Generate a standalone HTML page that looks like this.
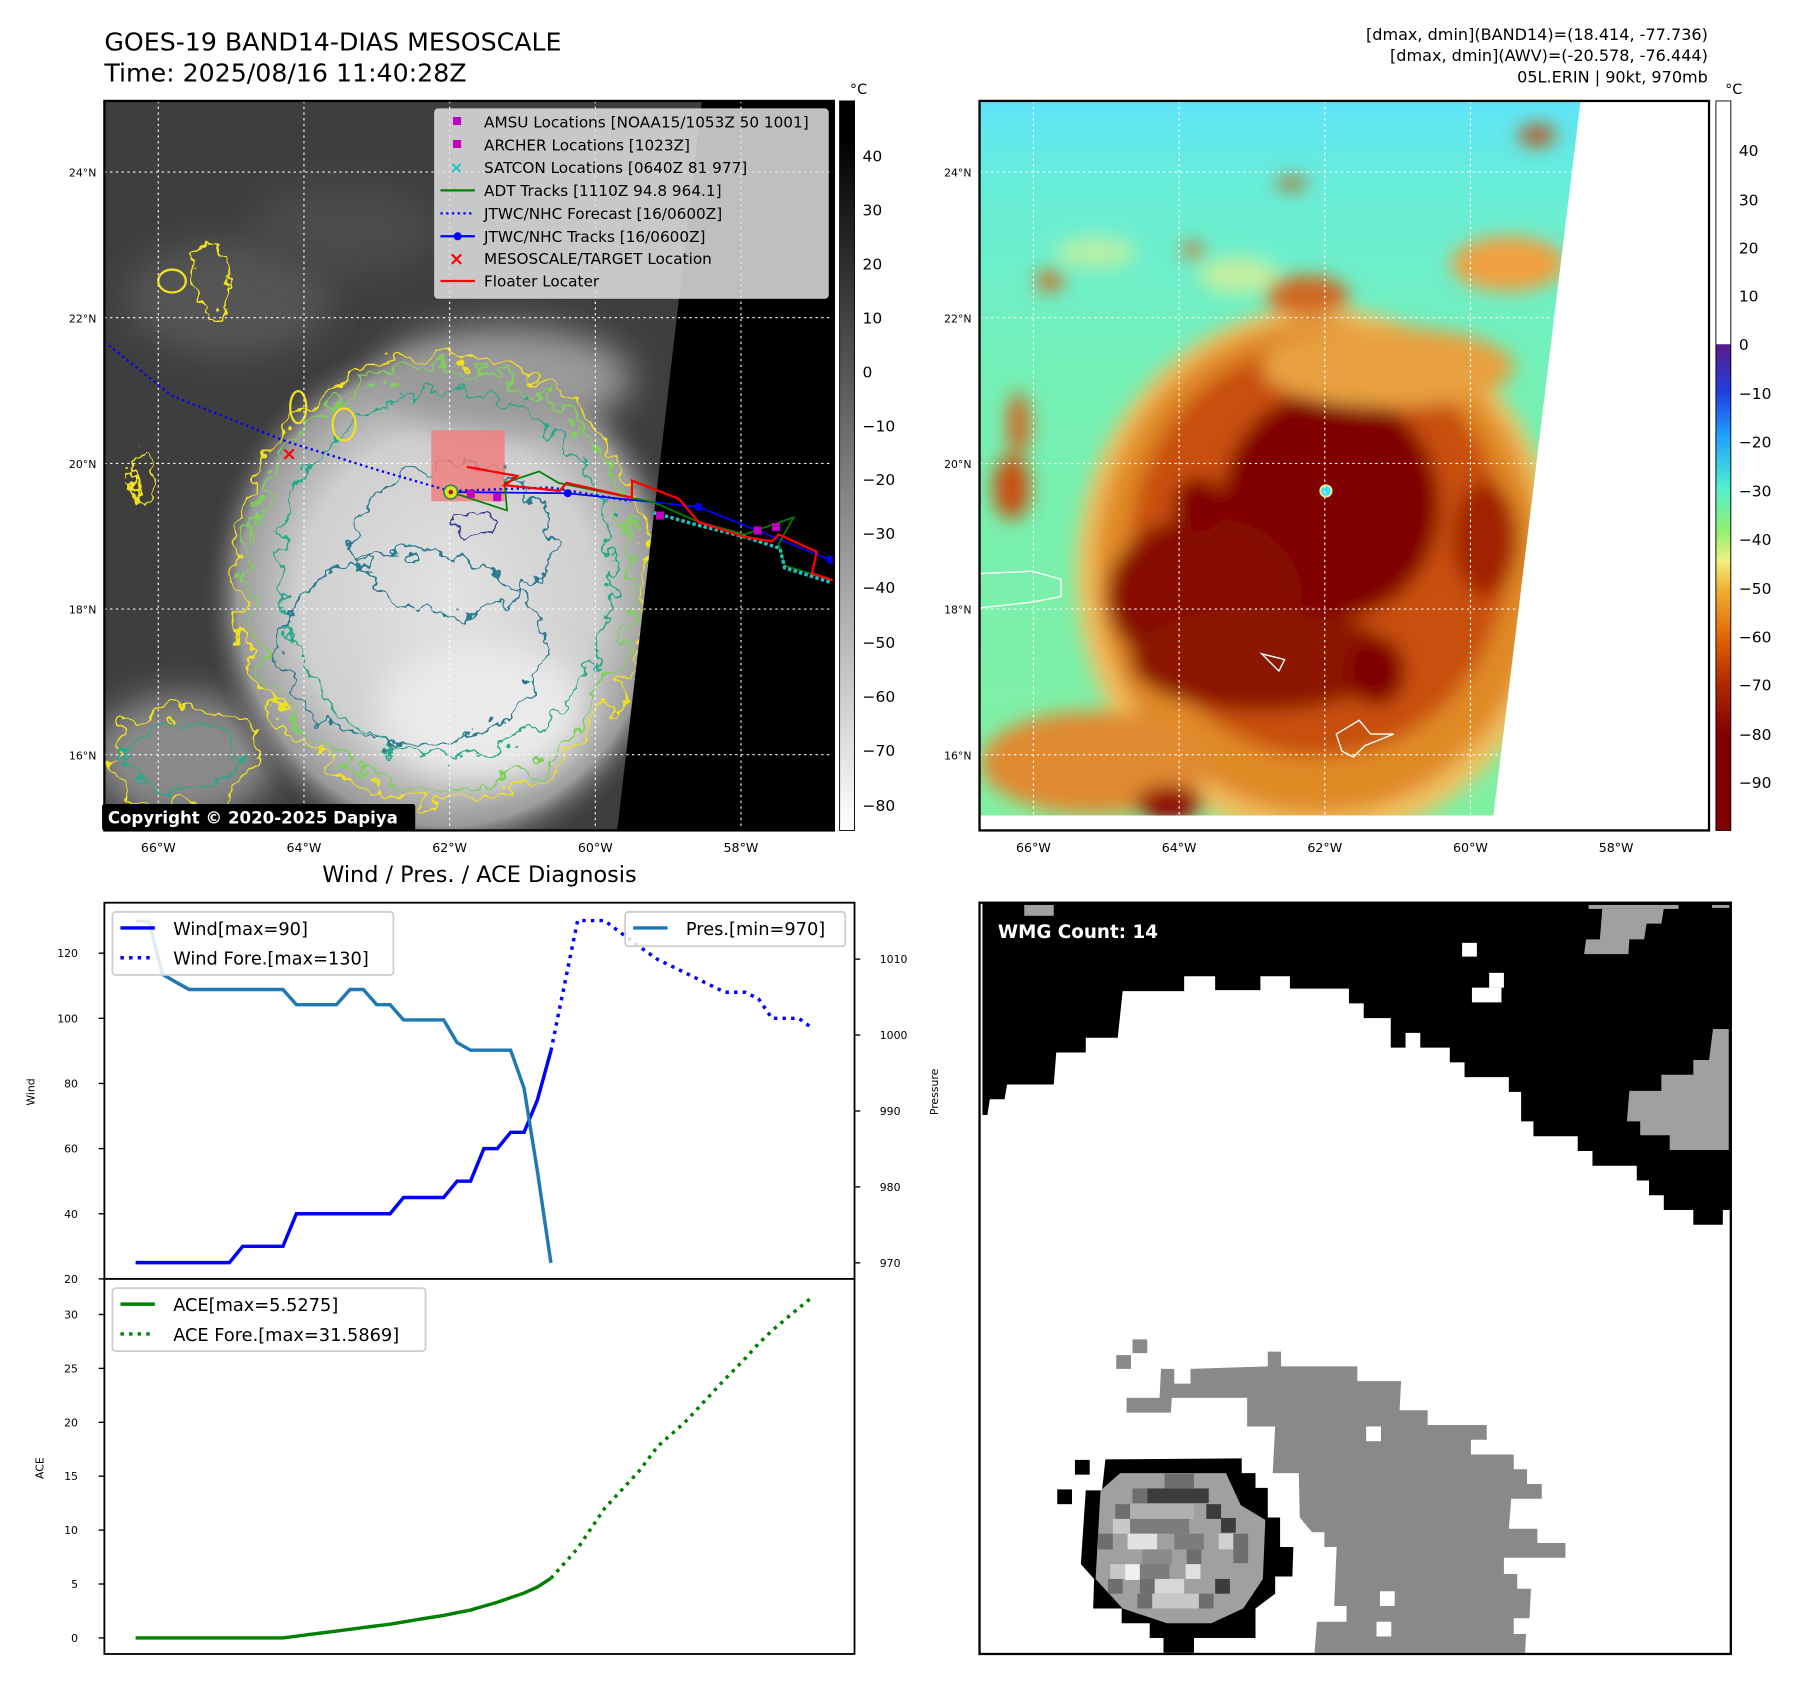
<!DOCTYPE html>
<html><head><meta charset="utf-8"><style>
html,body{margin:0;padding:0;background:#fff;}
svg{display:block;font-family:"DejaVu Sans","Liberation Sans",sans-serif;}
</style></head><body>
<svg id="fig" width="1797" height="1690" viewBox="0 0 1566.7 1473.4" xmlns="http://www.w3.org/2000/svg">
<defs>
<filter id="wig" x="-30%" y="-30%" width="160%" height="160%"><feTurbulence type="fractalNoise" baseFrequency="0.045" numOctaves="3" seed="4"/><feDisplacementMap in="SourceGraphic" scale="40" xChannelSelector="R" yChannelSelector="G"/></filter>
<filter id="wig2" x="-30%" y="-30%" width="160%" height="160%"><feTurbulence type="fractalNoise" baseFrequency="0.06" numOctaves="3" seed="9"/><feDisplacementMap in="SourceGraphic" scale="30" xChannelSelector="R" yChannelSelector="G"/></filter>
<filter id="blur8" x="-50%" y="-50%" width="200%" height="200%"><feGaussianBlur stdDeviation="8"/></filter>
<filter id="blur15" x="-60%" y="-60%" width="220%" height="220%"><feGaussianBlur stdDeviation="15"/></filter>
<clipPath id="clipL"><rect x="91" y="88" width="636" height="636"/></clipPath>
<clipPath id="clipR"><polygon points="854,88 1378,88 1302,711 854,711"/></clipPath>
<radialGradient id="stormG" cx="0.5" cy="0.5" r="0.5"><stop offset="0" stop-color="#e2e2e2"/><stop offset="0.6" stop-color="#cfcfcf"/><stop offset="0.85" stop-color="#9a9a9a"/><stop offset="1" stop-color="#3e3e3e" stop-opacity="0"/></radialGradient>
<linearGradient id="bgR" x1="0" y1="0" x2="0" y2="1"><stop offset="0" stop-color="#5ee4f8"/><stop offset="0.12" stop-color="#68eed8"/><stop offset="0.4" stop-color="#74f0b4"/><stop offset="1" stop-color="#82f0a2"/></linearGradient>
<linearGradient id="cbL" x1="0" y1="0" x2="0" y2="1"><stop offset="0" stop-color="#000"/><stop offset="0.05" stop-color="#000"/><stop offset="1" stop-color="#fff"/></linearGradient>
<linearGradient id="cbR" x1="0" y1="0" x2="0" y2="1">
<stop offset="0" stop-color="#fff"/><stop offset="0.333" stop-color="#fff"/><stop offset="0.334" stop-color="#5a1a8a"/><stop offset="0.4" stop-color="#2040e0"/><stop offset="0.46" stop-color="#20a0ff"/><stop offset="0.53" stop-color="#50f0d0"/><stop offset="0.59" stop-color="#90f070"/><stop offset="0.63" stop-color="#f0f080"/><stop offset="0.67" stop-color="#f0b030"/><stop offset="0.74" stop-color="#e06000"/><stop offset="0.8" stop-color="#b02800"/><stop offset="0.87" stop-color="#800000"/><stop offset="1" stop-color="#800000"/></linearGradient>
</defs>

<text x="91" y="44" font-size="22">GOES-19 BAND14-DIAS MESOSCALE</text>
<text x="91" y="71" font-size="22">Time: 2025/08/16 11:40:28Z</text>
<g font-size="14" text-anchor="end">
<text x="1489" y="35">[dmax, dmin](BAND14)=(18.414, -77.736)</text>
<text x="1489" y="53">[dmax, dmin](AWV)=(-20.578, -76.444)</text>
<text x="1489" y="72">05L.ERIN | 90kt, 970mb</text>
</g>

<g>
<g clip-path="url(#clipL)">
<rect x="91" y="88" width="636" height="636" fill="#3e3e3e"/>
<ellipse cx="200" cy="260" rx="90" ry="50" fill="#555" filter="url(#blur15)"/>
<ellipse cx="300" cy="200" rx="80" ry="40" fill="#4c4c4c" filter="url(#blur15)"/>
<ellipse cx="160" cy="660" rx="80" ry="55" fill="#8a8a8a" filter="url(#blur15)"/>
<ellipse cx="390" cy="520" rx="215" ry="235" fill="url(#stormG)"/>
<ellipse cx="440" cy="330" rx="110" ry="45" fill="#9a9a9a" filter="url(#blur15)"/>
<ellipse cx="420" cy="620" rx="90" ry="60" fill="#eaeaea" filter="url(#blur15)"/>
<g fill="none" stroke-width="2">
<ellipse cx="385" cy="505" rx="180" ry="195" stroke="#f0e020" filter="url(#wig)"/>
<ellipse cx="385" cy="505" rx="170" ry="185" stroke="#7ed05a" filter="url(#wig)"/>
<ellipse cx="390" cy="500" rx="145" ry="160" stroke="#2aa88a" filter="url(#wig2)"/>
<ellipse cx="395" cy="470" rx="85" ry="65" stroke="#2a7a90" filter="url(#wig2)"/>
<ellipse cx="360" cy="565" rx="115" ry="85" stroke="#2a7a90" filter="url(#wig2)"/>
<ellipse cx="410" cy="455" rx="22" ry="10" stroke="#3a3a90" filter="url(#wig2)"/>
<ellipse cx="185" cy="242" rx="16" ry="32" stroke="#f0e020" filter="url(#wig2)"/>
<ellipse cx="150" cy="245" rx="12" ry="10" stroke="#f0e020"/>
<ellipse cx="125" cy="420" rx="10" ry="25" stroke="#f0e020" filter="url(#wig2)"/>
<ellipse cx="160" cy="660" rx="65" ry="42" stroke="#f0e020" filter="url(#wig)"/>
<ellipse cx="160" cy="660" rx="50" ry="30" stroke="#2aa88a" filter="url(#wig2)"/>
<ellipse cx="300" cy="370" rx="10" ry="14" stroke="#f0e020"/>
<ellipse cx="260" cy="355" rx="7" ry="14" stroke="#f0e020"/>
</g>
<polygon points="612,88 727,88 727,724 538,724 540,708" fill="#000"/>
<g stroke="#fff" stroke-width="1" stroke-dasharray="2,3">
<line x1="138" y1="88" x2="138" y2="724"/><line x1="265" y1="88" x2="265" y2="724"/><line x1="392" y1="88" x2="392" y2="724"/><line x1="519" y1="88" x2="519" y2="724"/><line x1="646" y1="88" x2="646" y2="724"/>
<line x1="91" y1="150" x2="727" y2="150"/><line x1="91" y1="277" x2="727" y2="277"/><line x1="91" y1="404" x2="727" y2="404"/><line x1="91" y1="531" x2="727" y2="531"/><line x1="91" y1="658" x2="727" y2="658"/>
</g>
<rect x="376" y="375" width="64" height="62" fill="#f08080" opacity="0.85"/>
<polyline points="91,298 150,345 250,385 330,410 392,428 480,425 550,437" fill="none" stroke="#0000ff" stroke-width="2" stroke-dasharray="2,3"/>
<polyline points="393,429 495,430 609,442 724,488" fill="none" stroke="#0000ff" stroke-width="1.5"/>
<g fill="#0000ff"><circle cx="495" cy="430" r="3.5"/><circle cx="609" cy="442" r="3.5"/><circle cx="724" cy="488" r="3.5"/></g>
<polyline points="393,429 442,445 440,421 470,411 487,421 570,438 609,455 649,466 692,451 679,474 684,493 725,506" fill="none" stroke="#008000" stroke-width="1.5"/>
<polyline points="570,447 609,458 649,468 680,478 684,495 725,508" fill="none" stroke="#20c0c0" stroke-width="3" stroke-dasharray="3,2"/>
<polyline points="407,407 451,415 440,423 488,428 494,421 551,434 551,419 592,435 609,455 649,468 673,472 679,466 712,481 708,500 727,506" fill="none" stroke="#ff0000" stroke-width="2"/>
<g fill="#c000c0"><rect x="407" y="427" width="7" height="7"/><rect x="430" y="430" width="7" height="7"/><rect x="572" y="446" width="7" height="7"/><rect x="657" y="459" width="7" height="7"/><rect x="673" y="456" width="7" height="7"/></g>
<circle cx="393" cy="429" r="6" fill="#e0e020" stroke="#2a8a4a" stroke-width="1.5"/><circle cx="393" cy="429" r="2" fill="#a02020"/>
<text x="252" y="401" font-size="16" fill="#f00" text-anchor="middle" font-weight="bold">×</text>
<g>
<rect x="379" y="95" width="343" height="165" rx="3" fill="#e0e0e0" fill-opacity="0.85" stroke="#ccc"/>
<g font-size="13.3" fill="#000">
<rect x="395" y="102" width="7" height="7" fill="#c000c0"/><text x="422" y="111">AMSU Locations [NOAA15/1053Z 50 1001]</text>
<rect x="395" y="122" width="7" height="7" fill="#c000c0"/><text x="422" y="131">ARCHER Locations [1023Z]</text>
<text x="398" y="151" fill="#20c0c0" text-anchor="middle" font-weight="bold" font-size="14">×</text><text x="422" y="151">SATCON Locations [0640Z 81 977]</text>
<line x1="384" y1="166" x2="414" y2="166" stroke="#008000" stroke-width="2"/><text x="422" y="171">ADT Tracks [1110Z 94.8 964.1]</text>
<line x1="384" y1="186" x2="414" y2="186" stroke="#00f" stroke-width="2" stroke-dasharray="2,3"/><text x="422" y="191">JTWC/NHC Forecast [16/0600Z]</text>
<line x1="384" y1="206" x2="414" y2="206" stroke="#00f" stroke-width="2"/><circle cx="399" cy="206" r="3.5" fill="#00f"/><text x="422" y="211">JTWC/NHC Tracks [16/0600Z]</text>
<text x="398" y="231" fill="#f00" text-anchor="middle" font-weight="bold" font-size="16">×</text><text x="422" y="230">MESOSCALE/TARGET Location</text>
<line x1="384" y1="245" x2="414" y2="245" stroke="#f00" stroke-width="2"/><text x="422" y="250">Floater Locater</text>
</g></g>
</g>
<rect x="91" y="88" width="636" height="636" fill="none" stroke="#000" stroke-width="2"/>
<rect x="89" y="701" width="273" height="23" rx="2" fill="#000"/>
<text x="94" y="718" font-size="14.5" font-weight="bold" fill="#fff">Copyright © 2020-2025 Dapiya</text>
</g>

<g>
<rect x="732" y="88" width="13" height="636" fill="url(#cbL)" stroke="#000" stroke-width="0.8"/>
<text x="741" y="82" font-size="12.5">°C</text>
<g font-size="13.5">
<text x="752" y="141">40</text><text x="752" y="188">30</text><text x="752" y="235">20</text><text x="752" y="282">10</text><text x="752" y="329">0</text><text x="752" y="376">−10</text><text x="752" y="423">−20</text><text x="752" y="470">−30</text><text x="752" y="517">−40</text><text x="752" y="565">−50</text><text x="752" y="612">−60</text><text x="752" y="659">−70</text><text x="752" y="707">−80</text>
</g></g>

<g font-size="9.5" text-anchor="end">
<text x="84" y="154">24°N</text><text x="84" y="281">22°N</text><text x="84" y="408">20°N</text><text x="84" y="535">18°N</text><text x="84" y="662">16°N</text>
</g>
<g font-size="11" text-anchor="middle">
<text x="138" y="743">66°W</text><text x="265" y="743">64°W</text><text x="392" y="743">62°W</text><text x="519" y="743">60°W</text><text x="646" y="743">58°W</text>
</g>

<g>
<rect x="854" y="88" width="636" height="636" fill="#fff"/>
<g clip-path="url(#clipR)">
<rect x="854" y="88" width="530" height="630" fill="url(#bgR)"/>
<g filter="url(#blur8)">
<ellipse cx="1150" cy="500" rx="212" ry="232" fill="#f0c060"/>
<ellipse cx="1150" cy="495" rx="195" ry="215" fill="#e08a28"/>
<ellipse cx="1150" cy="480" rx="165" ry="180" fill="#c85008"/>
<ellipse cx="1160" cy="440" rx="95" ry="100" fill="#800000"/>
<ellipse cx="1050" cy="520" rx="85" ry="70" fill="#860800"/>
<ellipse cx="1100" cy="575" rx="115" ry="45" fill="#8c1200"/>
<ellipse cx="1045" cy="440" rx="22" ry="24" fill="#800000"/>
<ellipse cx="1200" cy="585" rx="25" ry="30" fill="#800000"/>
<ellipse cx="1295" cy="470" rx="28" ry="50" fill="#a02000"/>
<ellipse cx="955" cy="665" rx="100" ry="45" fill="#e08a30"/>
<ellipse cx="1020" cy="700" rx="30" ry="15" fill="#900000"/>
<ellipse cx="1140" cy="258" rx="36" ry="18" fill="#d06820"/>
<ellipse cx="915" cy="245" rx="12" ry="9" fill="#d06820"/>
<ellipse cx="1040" cy="218" rx="9" ry="7" fill="#d06820"/>
<ellipse cx="1126" cy="160" rx="14" ry="5" fill="#c05010"/>
<ellipse cx="1340" cy="118" rx="16" ry="9" fill="#c05010"/>
<ellipse cx="1315" cy="230" rx="50" ry="24" fill="#f0a040"/>
<ellipse cx="1210" cy="320" rx="110" ry="35" fill="#e8a040"/>
<ellipse cx="888" cy="370" rx="10" ry="28" fill="#d06820"/>
<ellipse cx="882" cy="425" rx="16" ry="28" fill="#c85010"/>
<ellipse cx="1080" cy="240" rx="35" ry="16" fill="#e8f090" opacity="0.7"/>
<ellipse cx="955" cy="220" rx="35" ry="14" fill="#e8f090" opacity="0.6"/>
</g>
<circle cx="1156" cy="428" r="5" fill="#40e0ff" stroke="#f0f080" stroke-width="1.5"/>
<g stroke="#fff" stroke-width="1" stroke-dasharray="2,3">
<line x1="901" y1="88" x2="901" y2="711"/><line x1="1028" y1="88" x2="1028" y2="711"/><line x1="1155" y1="88" x2="1155" y2="711"/><line x1="1282" y1="88" x2="1282" y2="711"/>
<line x1="854" y1="150" x2="1490" y2="150"/><line x1="854" y1="277" x2="1490" y2="277"/><line x1="854" y1="404" x2="1490" y2="404"/><line x1="854" y1="531" x2="1490" y2="531"/><line x1="854" y1="658" x2="1490" y2="658"/>
</g>
<g fill="none" stroke="#fff" stroke-width="1.2">
<path d="M854,500 L900,498 L925,505 L925,520 L900,525 L854,530"/>
<path d="M1165,640 L1185,628 L1195,640 L1215,640 L1190,650 L1180,660 L1170,655 Z"/>
<path d="M1100,570 L1115,585 L1120,575 Z"/>
</g>
</g>
<rect x="854" y="88" width="636" height="636" fill="none" stroke="#000" stroke-width="2"/>
</g>

<g>
<rect x="1496" y="88" width="13" height="636" fill="url(#cbR)" stroke="#000" stroke-width="0.8"/>
<text x="1504" y="82" font-size="12.5">°C</text>
<g font-size="13.5">
<text x="1516" y="136">40</text><text x="1516" y="179">30</text><text x="1516" y="221">20</text><text x="1516" y="263">10</text><text x="1516" y="305">0</text><text x="1516" y="348">−10</text><text x="1516" y="390">−20</text><text x="1516" y="433">−30</text><text x="1516" y="475">−40</text><text x="1516" y="518">−50</text><text x="1516" y="560">−60</text><text x="1516" y="602">−70</text><text x="1516" y="645">−80</text><text x="1516" y="687">−90</text>
</g></g>
<g font-size="9.5" text-anchor="end">
<text x="847" y="154">24°N</text><text x="847" y="281">22°N</text><text x="847" y="408">20°N</text><text x="847" y="535">18°N</text><text x="847" y="662">16°N</text>
</g>
<g font-size="11" text-anchor="middle">
<text x="901" y="743">66°W</text><text x="1028" y="743">64°W</text><text x="1155" y="743">62°W</text><text x="1282" y="743">60°W</text><text x="1409" y="743">58°W</text>
</g>

<g>
<rect x="854" y="787" width="655" height="655" fill="#fff"/>
<g transform="translate(854.4,784.7) scale(0.4289)">
<polygon fill="#000" points="5,5 1525,5 1525,630 1510,630 1510,660 1450,660 1450,630 1390,630 1390,600 1360,600 1360,570 1335,570 1335,540 1245,540 1245,510 1215,510 1215,480 1125,480 1125,450 1100,450 1100,390 1075,390 1075,360 985,360 985,330 955,330 955,300 895,300 895,270 865,270 865,300 835,300 835,240 780,240 780,210 750,210 750,180 630,180 630,155 570,155 570,183 478,183 478,155 415,155 415,185 290,185 280,280 215,280 215,310 155,310 150,375 55,375 50,405 20,405 15,437 5,437"/>
<g fill="#fff"><rect x="980" y="87" width="30" height="28"/><rect x="1035" y="148" width="30" height="30"/><rect x="1000" y="178" width="60" height="30"/></g>
<g fill="#a0a0a0">
<rect x="90" y="10" width="60" height="22"/><rect x="1237" y="10" width="183" height="8"/><rect x="1488" y="10" width="35" height="6"/>
<polygon points="1265,18 1390,18 1385,48 1355,48 1350,80 1320,80 1318,110 1228,110 1232,80 1260,80"/>
<polygon points="1490,262 1522,262 1522,508 1402,508 1402,478 1342,478 1342,450 1315,450 1320,388 1385,388 1385,355 1450,355 1450,325 1482,325"/>
</g>
<g fill="#898989">
<polygon points="585,918 612,918 612,948 767,948 767,978 856,978 853,1037 910,1037 910,1067 1030,1067 1030,1097 998,1097 998,1127 1085,1127 1085,1157 1112,1157 1112,1187 1142,1187 1142,1217 1080,1217 1075,1278 1133,1278 1133,1307 1190,1307 1190,1337 1065,1337 1065,1370 1092,1370 1092,1400 1120,1400 1117,1460 1085,1460 1085,1492 1110,1492 1108,1530 680,1530 685,1467 745,1467 745,1435 720,1435 725,1315 700,1315 700,1285 675,1285 650,1255 648,1165 595,1165 600,1070 543,1070 543,1012 390,1012 388,1042 298,1042 298,1012 365,1012 368,953 395,953 395,983 428,983 428,953 585,948"/>
<rect x="310" y="893" width="30" height="28"/><rect x="277" y="925" width="30" height="28"/>
</g>
<g fill="#fff"><rect x="785" y="1070" width="30" height="30"/><rect x="813" y="1405" width="30" height="30"/><rect x="806" y="1467" width="30" height="30"/></g>
<g fill="#000"><rect x="193" y="1138" width="30" height="30"/><rect x="157" y="1198" width="30" height="30"/>
<polygon points="255,1137 532,1135 532,1165 560,1165 560,1195 585,1195 585,1255 610,1255 610,1315 637,1315 635,1375 600,1375 600,1410 560,1440 560,1500 435,1500 435,1530 373,1530 373,1500 345,1500 345,1470 288,1470 288,1440 230,1440 232,1380 205,1350 215,1200 248,1200"/></g>
<polygon fill="#a0a0a0" points="285,1165 500,1165 530,1230 580,1260 575,1380 535,1440 470,1470 380,1470 290,1440 235,1380 245,1200"/>
<g>
<rect x="340" y="1196" width="125" height="30" fill="#3c3c3c"/><rect x="310" y="1196" width="30" height="30" fill="#6e6e6e"/><rect x="375" y="1166" width="60" height="30" fill="#6e6e6e"/>
<rect x="275" y="1228" width="30" height="30" fill="#6e6e6e"/><rect x="305" y="1228" width="130" height="30" fill="#b0b0b0"/><rect x="460" y="1228" width="30" height="30" fill="#3c3c3c"/><rect x="490" y="1256" width="30" height="30" fill="#3c3c3c"/>
<rect x="270" y="1258" width="35" height="30" fill="#c8c8c8"/><rect x="305" y="1258" width="120" height="30" fill="#7c7c7c"/>
<rect x="300" y="1288" width="60" height="32" fill="#e2e2e2"/><rect x="240" y="1288" width="30" height="32" fill="#6e6e6e"/><rect x="395" y="1288" width="60" height="32" fill="#7c7c7c"/><rect x="485" y="1288" width="30" height="32" fill="#d0d0d0"/><rect x="515" y="1288" width="30" height="60" fill="#6e6e6e"/>
<rect x="330" y="1320" width="60" height="30" fill="#8a8a8a"/><rect x="420" y="1320" width="30" height="30" fill="#6e6e6e"/>
<rect x="265" y="1350" width="30" height="30" fill="#c8c8c8"/><rect x="295" y="1350" width="30" height="32" fill="#f0f0f0"/><rect x="325" y="1350" width="60" height="30" fill="#7c7c7c"/><rect x="418" y="1350" width="30" height="30" fill="#e0e0e0"/>
<rect x="260" y="1380" width="30" height="30" fill="#6e6e6e"/><rect x="355" y="1380" width="60" height="30" fill="#d8d8d8"/><rect x="478" y="1380" width="30" height="30" fill="#3c3c3c"/><rect x="325" y="1380" width="30" height="30" fill="#6e6e6e"/>
<rect x="350" y="1410" width="95" height="30" fill="#c8c8c8"/><rect x="320" y="1410" width="30" height="30" fill="#6e6e6e"/><rect x="445" y="1410" width="30" height="30" fill="#6e6e6e"/>
</g>
</g>
<text x="870" y="818" font-size="16" font-weight="bold" fill="#fff">WMG Count: 14</text>
<rect x="854" y="787" width="655" height="655" fill="none" stroke="#000" stroke-width="2"/>
</g>

<text x="418" y="769" font-size="19.5" text-anchor="middle">Wind / Pres. / ACE Diagnosis</text>
<g id="chart"></g>
</svg>
<script>
const obsT = [0,1,2,3,4,5,6,7,8,9,10,11,12,13,14,15,16,17,18,19,20,21,22,23,24,25,26,27,28,29,30,31];
const windObs = [25,25,25,25,25,25,25,25,30,30,30,30,40,40,40,40,40,40,40,40,45,45,45,45,50,50,60,60,65,65,75,90];
const presObs = [1015,1015,1008,1007,1006,1006,1006,1006,1006,1006,1006,1006,1004,1004,1004,1004,1006,1006,1004,1004,1002,1002,1002,1002,999,998,998,998,998,993,982,970];
const aceObs = [0,0,0,0,0,0,0,0,0,0,0,0,0.16,0.32,0.48,0.64,0.8,0.96,1.12,1.28,1.48,1.69,1.89,2.09,2.34,2.59,2.95,3.31,3.73,4.16,4.72,5.53];
const foreT = [31,33,35,37.6,39,41,42.5,44,45.5,46.5,47.5,49.5,50.5];
const windFore = [90,130,130,122,118,114,111,108,108,106,100,100,97];
const aceFore = [5.53,8.3,12.0,15.5,17.8,20.0,22.0,24.0,25.9,27.3,28.5,30.6,31.6];
const windTicks = [20,40,60,80,100,120];
const presTicks = [970,980,990,1000,1010];
const aceTicks = [0,5,10,15,20,25,30];

const NS = 'http://www.w3.org/2000/svg';
const xS = t => 118.2 + t * 11.68;
const yW = w => 1115 - (w - 20) * 2.84;
const yP = p => 1101 - (p - 970) * 6.62;
const yA = a => 1428 - a * 9.4;
const g = document.getElementById('chart');
function mk(tag, attrs, parent) {
  const e = document.createElementNS(NS, tag);
  for (const k in attrs) e.setAttribute(k, attrs[k]);
  (parent || g).appendChild(e);
  return e;
}
function pts(ts, vs, f) { return ts.map((t, i) => xS(t).toFixed(1) + ',' + f(vs[i]).toFixed(1)).join(' '); }

let e;
e = mk('rect', {x:91, y:787, width:654, height:328, fill:'#fff', stroke:'#000', 'stroke-width':1.6});


e = mk('rect', {x:91, y:1115, width:654, height:327, fill:'#fff', stroke:'#000', 'stroke-width':1.6});



windTicks.forEach(v => {
  mk('line', {x1:86, x2:91, y1:yW(v), y2:yW(v), stroke:'#000', 'stroke-width':1.2});
  const t = mk('text', {x:68, y:yW(v)+3.5, 'font-size':9.5, 'text-anchor':'end'}); t.textContent = v;
  
  
});
presTicks.forEach(v => {
  mk('line', {x1:745, x2:750, y1:yP(v), y2:yP(v), stroke:'#000', 'stroke-width':1.2});
  const t = mk('text', {x:767, y:yP(v)+3.5, 'font-size':9.5}); t.textContent = v;
  
  
});
aceTicks.forEach(v => {
  mk('line', {x1:86, x2:91, y1:yA(v), y2:yA(v), stroke:'#000', 'stroke-width':1.2});
  const t = mk('text', {x:68, y:yA(v)+3.5, 'font-size':9.5, 'text-anchor':'end'}); t.textContent = v;
  
  
});
e = mk('text', {x:0, y:0, 'font-size':9.5, 'text-anchor':'middle', transform:'translate(30,952) rotate(-90)'}); e.textContent = 'Wind';


e = mk('text', {x:0, y:0, 'font-size':9.5, 'text-anchor':'middle', transform:'translate(818,952) rotate(-90)'}); e.textContent = 'Pressure';


e = mk('text', {x:0, y:0, 'font-size':9.5, 'text-anchor':'middle', transform:'translate(38,1280) rotate(-90)'}); e.textContent = 'ACE';



e = mk('polyline', {points:pts(obsT, windObs, yW), fill:'none', stroke:'#0000ff', 'stroke-width':3});


e = mk('polyline', {points:pts(foreT, windFore, yW), fill:'none', stroke:'#0000ff', 'stroke-width':3, 'stroke-dasharray':'3,4.5'});


e = mk('polyline', {points:pts(obsT, presObs, yP), fill:'none', stroke:'#1f77b4', 'stroke-width':3});


e = mk('polyline', {points:pts(obsT, aceObs, yA), fill:'none', stroke:'#008000', 'stroke-width':3});


e = mk('polyline', {points:pts(foreT, aceFore, yA), fill:'none', stroke:'#008000', 'stroke-width':3, 'stroke-dasharray':'3,4.5'});



function legend(name, x, y, w, h, items) {
  const lg = mk('g', {});
  
  
  mk('rect', {x:x, y:y, width:w, height:h, rx:3, fill:'#fff', 'fill-opacity':0.85, stroke:'#ccc', 'stroke-width':1.5}, lg);
  items.forEach((it, i) => {
    const cy = y + 14 + i * 26;
    const ln = {x1:x+7, x2:x+37, y1:cy, y2:cy, stroke:it.c, 'stroke-width':3};
    if (it.d) ln['stroke-dasharray'] = '3,4.5';
    mk('line', ln, lg);
    const t = mk('text', {x:x+53, y:cy+6, 'font-size':15.5}, lg); t.textContent = it.t;
  });
}
legend('wind-legend', 98, 795, 245, 55, [{c:'#0000ff', t:'Wind[max=90]'}, {c:'#0000ff', d:1, t:'Wind Fore.[max=130]'}]);
legend('pressure-legend', 545, 795, 192, 30, [{c:'#1f77b4', t:'Pres.[min=970]'}]);
legend('ace-legend', 98, 1123, 273, 55, [{c:'#008000', t:'ACE[max=5.5275]'}, {c:'#008000', d:1, t:'ACE Fore.[max=31.5869]'}]);
</script>
</body></html>
